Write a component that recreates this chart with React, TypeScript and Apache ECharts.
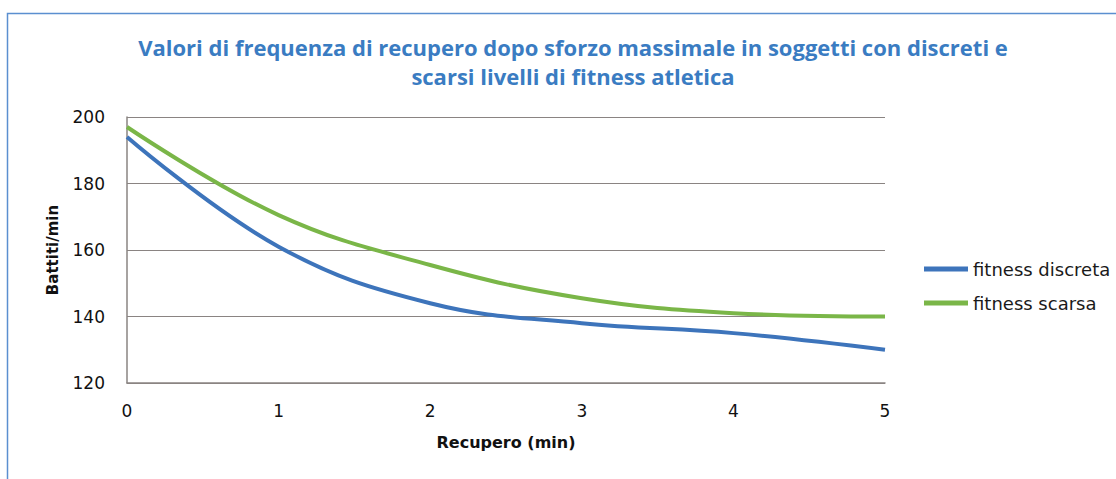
import React, { useEffect, useRef } from "react";
import * as echarts from "echarts";

const titleText =
  "Valori di frequenza di recupero dopo sforzo massimale in soggetti con discreti e\nscarsi livelli di fitness atletica";
const xValues = [0, 1, 2, 3, 4, 5];
const discreta = [194, 161, 144, 138, 135, 130];
const scarsa = [197, 170.5, 155.5, 145.5, 141, 140];
const seriesNames = ["fitness discreta", "fitness scarsa"];
const seriesColors = ["#3d74bb", "#7ab648"];
const xName = "Recupero (min)";
const yName = "Battiti/min";

export default function App() {
  const ref = useRef<HTMLDivElement>(null);
  useEffect(() => {
    const chart = echarts.init(ref.current!, undefined, { renderer: "svg" });
    const font = "'DejaVu Sans', sans-serif";
    const titleFont = "'Open Sans', sans-serif";
    chart.setOption({
      animation: false,
      backgroundColor: "#ffffff",
      textStyle: { fontFamily: font },
      title: {
        text: titleText,
        left: 568,
        textAlign: "center",
        top: 27,
        textStyle: {
          color: "#3a7cc2",
          fontSize: 22,
          fontWeight: "bold",
          lineHeight: 29,
          fontFamily: titleFont,
        },
      },
      graphic: [
        {
          type: "rect",
          shape: { x: 7.5, y: 13.5, width: 1200, height: 600 },
          style: { fill: "none", stroke: "#5b8fd0", lineWidth: 1.5 },
          silent: true,
        },
      ],
      legend: {
        orient: "vertical",
        left: 919,
        top: 255,
        itemWidth: 44,
        itemHeight: 5,
        itemGap: 16,
        icon: "rect",
        textStyle: { fontSize: 18, color: "#1a1a1a", fontFamily: font },
        data: seriesNames,
      },
      grid: { left: 127, top: 117, width: 758, height: 266 },
      xAxis: {
        type: "value",
        min: 0,
        max: 5,
        interval: 1,
        name: xName,
        nameLocation: "middle",
        nameGap: 51,
        nameTextStyle: { fontSize: 16, fontWeight: "bold", color: "#111", fontFamily: font },
        axisLine: { show: true, lineStyle: { color: "#8a8482", width: 1.5 } },
        axisTick: { show: false },
        axisLabel: { fontSize: 17, color: "#111", margin: 19, fontFamily: font },
        splitLine: { show: false },
      },
      yAxis: {
        type: "value",
        min: 120,
        max: 200,
        interval: 20,
        name: yName,
        nameLocation: "middle",
        nameGap: 67,
        nameRotate: 90,
        nameTextStyle: { fontSize: 15, fontWeight: "bold", color: "#111", fontFamily: font },
        axisLine: { show: true, lineStyle: { color: "#8a8482", width: 1.5 } },
        axisTick: { show: false },
        axisLabel: { fontSize: 17, color: "#111", margin: 22, fontFamily: font },
        splitLine: { show: true, lineStyle: { color: "#8a8482", width: 1 } },
      },
      series: [
        {
          name: seriesNames[0],
          type: "line",
          smooth: 0.4,
          symbol: "none",
          data: xValues.map((x, i) => [x, discreta[i]]),
          lineStyle: { color: seriesColors[0], width: 4 },
          itemStyle: { color: seriesColors[0] },
        },
        {
          name: seriesNames[1],
          type: "line",
          smooth: 0.4,
          symbol: "none",
          data: xValues.map((x, i) => [x, scarsa[i]]),
          lineStyle: { color: seriesColors[1], width: 4 },
          itemStyle: { color: seriesColors[1] },
        },
      ],
    });
    return () => chart.dispose();
  }, []);
  return (
    <div
      ref={ref}
      style={{ position: "fixed", left: 0, top: 0, width: 1116, height: 479 }}
    />
  );
}
